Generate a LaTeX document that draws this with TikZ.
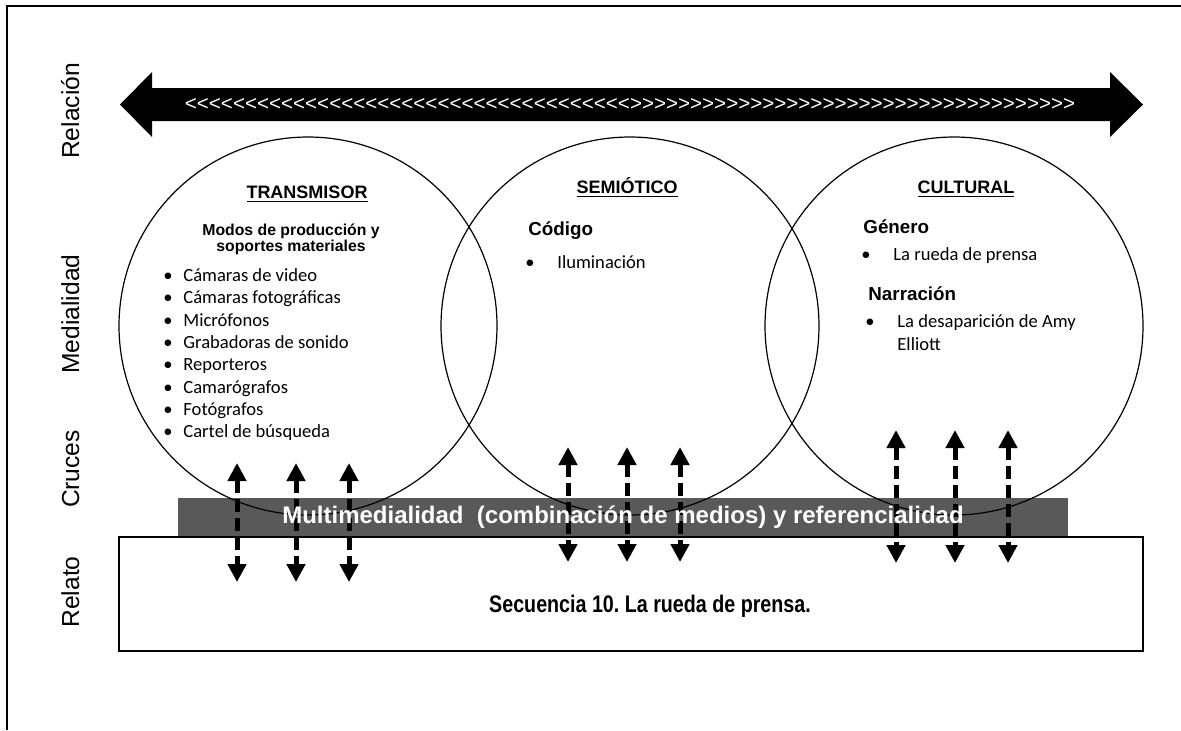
\documentclass[tikz,border=0pt]{standalone}
\usepackage{fontspec}
\setmainfont{Liberation Sans}
\newfontfamily\calib{Carlito}
\newfontfamily\narrow[FakeStretch=0.82]{Liberation Sans}
\newfontfamily\chevfont[Ligatures=TeXOff]{Liberation Sans}
\usetikzlibrary{arrows.meta}
\frenchspacing

\begin{document}
\begin{tikzpicture}[x=0.5pt,y=-0.5pt,
    lbl/.style={rotate=90,anchor=base,inner sep=0pt,font=\fontsize{12.3}{14}\selectfont},
    head/.style={anchor=base,inner sep=0pt,font=\bfseries\fontsize{9}{11}\selectfont},
    sub/.style={anchor=base west,inner sep=0pt,font=\bfseries\fontsize{9.4}{11}\selectfont},
    itm/.style={anchor=base west,inner sep=0pt,font=\calib\fontsize{9.3}{11}\selectfont},
    bul/.style={anchor=base,inner sep=0pt,font=\calib\fontsize{9.3}{11}\selectfont},
    ring/.style={draw,circle,line width=0.6pt,inner sep=0pt,minimum size=189pt},
    updown/.style={line width=2.5pt,dash pattern=on 6.5pt off 3pt,
        >={Triangle[width=9pt,length=9pt]},<->}]
    \useasboundingbox (0,0) rectangle (1181,730);
    \draw[line width=0.75pt] (7,730) -- (7,6) -- (1181,6);
    % left row labels
    \node[lbl] (rel) at (79,111) {Relación};
    \node[lbl] (med) at (79,314) {Medialidad};
    \node[lbl] (cru) at (79,469) {Cruces};
    \node[lbl] (rto) at (79,592) {Relato};
    % big double arrow
    \fill (120,104.5) -- (152,72) -- (152,88) -- (1110,88) -- (1110,72) -- (1143,104.5)
        -- (1110,137) -- (1110,121) -- (152,121) -- (152,137) -- cycle;
    \node[text=white,inner sep=0pt,font=\chevfont\fontsize{10.3}{12}\selectfont] (chev) at (630,104.5)
        {<<<<<<<<<<<<<<<<<<<<<<<<<<<<<<<<<<<<<>>>>>>>>>>>>>>>>>>>>>>>>>>>>>>>>>>>>>};
    % circles
    \node[ring] (trans) at (308,326) {};
    \node[ring] (semio) at (630,326) {};
    \node[ring] (cult) at (954,326) {};
    \node[head] (th) at (307,198) {\underline{TRANSMISOR}};
    \node[head] (sh) at (627,193) {\underline{SEMIÓTICO}};
    \node[head] (ch) at (966,193) {\underline{CULTURAL}};
    \node[anchor=base,inner sep=0pt,font=\bfseries\fontsize{7.9}{9}\selectfont] (mod1) at (291,235.5) {Modos de producción y};
    \node[anchor=base,inner sep=0pt,font=\bfseries\fontsize{7.9}{9}\selectfont] (mod2) at (291,251.5) {soportes materiales};
    \foreach \t [count=\i] in {Cámaras de video,Cámaras fotográficas,Micrófonos,Grabadoras de sonido,
        Reporteros,Camarógrafos,Fotógrafos,Cartel de búsqueda}{
        \node[bul] (tb\i) at (168,{281.5+22.3*(\i-1)}) {•};
        \node[itm] (ti\i) at (183,{281.5+22.3*(\i-1)}) {\t};
    }
    \node[sub] (cod) at (528,235) {Código};
    \node[bul] (sb1) at (530,268) {•};
    \node[itm] (si1) at (557,268) {Iluminación};
    \node[sub] (gen) at (863,233) {Género};
    \node[bul] (cb1) at (866,260) {•};
    \node[itm] (ci1) at (893,260) {La rueda de prensa};
    \node[sub] (nar) at (868,300) {Narración};
    \node[bul] (cb2) at (870,327) {•};
    \node[itm] (ci2) at (897,327) {La desaparición de Amy};
    \node[itm] (ci3) at (897,350) {Elliott};
    % relato box
    \node[draw,line width=0.8pt,inner sep=0pt,minimum width=512pt,minimum height=57pt] (box) at (631,594) {};
    \node[anchor=base,inner sep=0pt,font=\narrow\bfseries\fontsize{12}{14}\selectfont] (sec) at (650,612)
        {Secuencia 10. La rueda de prensa.};
    % crossing arrows
    \foreach \x/\t/\b [count=\i] in {237/463/582,296/463/582,349/463/582,568/447/562,627/447/562,
        680/447/562,896/430/563,955/430/563,1008/430/563}{
        \coordinate (u\i) at (\x,\t);
        \coordinate (d\i) at (\x,\b);
        \draw[updown] (u\i) -- (d\i);
    }
    \node[fill=black,fill opacity=0.65,text opacity=1,text=white,inner sep=0pt,
        minimum width=445pt,minimum height=19.5pt,font=\bfseries\fontsize{12}{14}\selectfont] (bar) at (623,517.5)
        {Multimedialidad\ \ (combinación de medios) y referencialidad};
\end{tikzpicture}
\end{document}
